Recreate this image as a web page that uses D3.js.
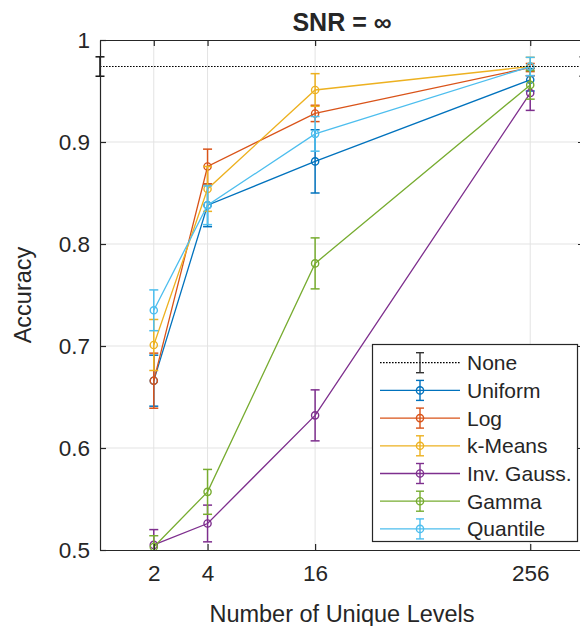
<!DOCTYPE html>
<html>
<head>
<meta charset="utf-8">
<script src="https://cdn.jsdelivr.net/npm/d3@7/dist/d3.min.js"></script>
<style>
  html, body { margin: 0; padding: 0; background: #fff; }
  svg { display: block; }
  text { font-family: "Liberation Sans", Arial, sans-serif; fill: #262626; }
</style>
</head>
<body>
<svg id="chart" width="580" height="626"></svg>
<script>
// ---- data ----
const levels = [2, 4, 16, 256];
const xTicks = [2, 4, 16, 256];
const yTicks = [0.5, 0.6, 0.7, 0.8, 0.9, 1];
const seriesNames = ["Uniform", "Log", "k-Means", "Inv. Gauss.", "Gamma", "Quantile"];
const seriesColors = ["#0072BD", "#D95319", "#EDB120", "#7E2F8E", "#77AC30", "#4DBEEE"];
const uniformAcc  = [0.666, 0.838, 0.881, 0.961];
const uniformErr  = [0.025, 0.021, 0.031, 0.011];
const logAcc      = [0.666, 0.876, 0.928, 0.973];
const logErr      = [0.027, 0.017, 0.008, 0.004];
const kmeansAcc   = [0.701, 0.854, 0.951, 0.974];
const kmeansErr   = [0.025, 0.022, 0.016, 0.009];
const invGaussAcc = [0.505, 0.526, 0.632, 0.948];
const invGaussErr = [0.015, 0.018, 0.025, 0.017];
const gammaAcc    = [0.503, 0.557, 0.781, 0.956];
const gammaErr    = [0.011, 0.022, 0.025, 0.014];
const quantileAcc = [0.735, 0.838, 0.908, 0.974];
const quantileErr = [0.020, 0.019, 0.017, 0.009];
const noneLevels  = [1, 512];
const noneAcc     = [0.974, 0.974];
const noneErr     = [0.0095, 0.0095];

const seriesAcc = [uniformAcc, logAcc, kmeansAcc, invGaussAcc, gammaAcc, quantileAcc];
const seriesErr = [uniformErr, logErr, kmeansErr, invGaussErr, gammaErr, quantileErr];

// ---- layout ----
const svg = d3.select("#chart");
const L = 100, R = 584, T = 40, B = 550;
const x = d3.scaleLog().base(2).domain([1, 512]).range([L, R]);
const y = d3.scaleLinear().domain([0.5, 1]).range([B, T]);
const axisColor = "#262626";
const gridColor = "#e3e3e3";

svg.append("defs").append("clipPath").attr("id", "clip")
  .append("rect").attr("x", 80).attr("y", T).attr("width", 600).attr("height", B - T);

// grid
const grid = svg.append("g");
grid.selectAll(".gx").data(xTicks).join("line")
  .attr("x1", d => x(d)).attr("x2", d => x(d)).attr("y1", T).attr("y2", B)
  .attr("stroke", gridColor).attr("stroke-width", 1);
grid.selectAll(".gy").data(yTicks.filter(d => d > 0.5 && d < 1)).join("line")
  .attr("x1", L).attr("x2", R).attr("y1", d => y(d)).attr("y2", d => y(d))
  .attr("stroke", gridColor).attr("stroke-width", 1);

// axes (MATLAB style, inward ticks, box)
const xAxisB = d3.axisBottom(x).tickValues(xTicks).tickFormat(d3.format("d")).tickSizeInner(-6).tickSizeOuter(0).tickPadding(15);
const xAxisT = d3.axisTop(x).tickValues(xTicks).tickFormat("").tickSizeInner(-6).tickSizeOuter(0);
const yAxisL = d3.axisLeft(y).tickValues(yTicks).tickFormat(d => d === 1 ? "1" : d3.format(".1f")(d)).tickSizeInner(-6).tickSizeOuter(0).tickPadding(10);
const yAxisR = d3.axisRight(y).tickValues(yTicks).tickFormat("").tickSizeInner(-6).tickSizeOuter(0);

function styleAxis(g) {
  g.select(".domain").attr("stroke", axisColor).attr("stroke-width", 1.2);
  g.selectAll(".tick line").attr("stroke", axisColor).attr("stroke-width", 1.2);
  g.selectAll(".tick text").attr("fill", axisColor).style("font-size", "22.5px")
    .style("font-family", "'Liberation Sans', Arial, sans-serif");
}

// plot data
const plot = svg.append("g").attr("clip-path", "url(#clip)");
const line = d3.line().x(d => x(d[0])).y(d => y(d[1]));
const capW = 4.5;

function drawSeries(g, xs, ys, es, color, opts) {
  const pts = xs.map((v, i) => [v, ys[i], es[i]]);
  g.append("path").datum(pts).attr("d", line).attr("fill", "none")
    .attr("stroke", color).attr("stroke-width", opts.lw || 1.3)
    .attr("stroke-dasharray", opts.dash || null);
  const eb = g.append("g");
  pts.forEach(p => {
    const cx = x(p[0]), y1 = y(p[1] + p[2]), y2 = y(p[1] - p[2]);
    eb.append("line").attr("x1", cx).attr("x2", cx).attr("y1", y1).attr("y2", y2)
      .attr("stroke", color).attr("stroke-width", opts.elw || 1.5);
    [y1, y2].forEach(yy => eb.append("line").attr("x1", cx - capW).attr("x2", cx + capW)
      .attr("y1", yy).attr("y2", yy).attr("stroke", color).attr("stroke-width", opts.elw || 1.5));
    if (opts.marker) {
      g.append("circle").attr("cx", cx).attr("cy", y(p[1])).attr("r", 3.6)
        .attr("fill", "none").attr("stroke", color).attr("stroke-width", 1.4);
    }
  });
}

// None baseline (not clipped so its end error bar sits on the left edge)
const noneG = svg.append("g");
drawSeries(noneG, noneLevels, noneAcc, noneErr, "#000", { lw: 1.2, dash: "1.6,1.4", elw: 1.4, marker: false });

seriesNames.forEach((n, i) => {
  drawSeries(plot.append("g"), levels, seriesAcc[i], seriesErr[i], seriesColors[i], { marker: true });
});

svg.append("g").attr("transform", `translate(0,${B})`).call(xAxisB).call(styleAxis);
svg.append("g").attr("transform", `translate(0,${T})`).call(xAxisT).call(styleAxis);
svg.append("g").attr("transform", `translate(${L},0)`).call(yAxisL).call(styleAxis);
svg.append("g").attr("transform", `translate(${R},0)`).call(yAxisR).call(styleAxis);

// title & labels
svg.append("text").attr("x", (L + R) / 2).attr("y", 31).attr("text-anchor", "middle")
  .style("font-size", "25px").style("font-weight", "bold").attr("fill", "#000").text("SNR = ∞");
svg.append("text").attr("x", (L + R) / 2 - 0).attr("y", 622).attr("text-anchor", "middle")
  .style("font-size", "23.5px").text("Number of Unique Levels");
svg.append("text").attr("transform", `translate(31,${(T + B) / 2}) rotate(-90)`).attr("text-anchor", "middle")
  .style("font-size", "23.5px").text("Accuracy");

// legend
const legNames = ["None"].concat(seriesNames);
const legColors = ["#000"].concat(seriesColors);
const lg = svg.append("g");
const lx = 372.5, ly = 344.5, lw = 205, lh = 197;
lg.append("rect").attr("x", lx).attr("y", ly).attr("width", lw).attr("height", lh)
  .attr("fill", "#fff").attr("stroke", axisColor).attr("stroke-width", 1.2);
legNames.forEach((n, i) => {
  const cy = 362.7 + i * 27.7;
  const c = legColors[i];
  lg.append("line").attr("x1", 380).attr("x2", 460).attr("y1", cy).attr("y2", cy)
    .attr("stroke", c).attr("stroke-width", i === 0 ? 1.2 : 1.3)
    .attr("stroke-dasharray", i === 0 ? "1.6,1.4" : null);
  const ec = i === 0 ? "#333" : c;
  lg.append("line").attr("x1", 420).attr("x2", 420).attr("y1", cy - 10).attr("y2", cy + 10)
    .attr("stroke", ec).attr("stroke-width", 1.4);
  [cy - 10, cy + 10].forEach(yy => lg.append("line").attr("x1", 416).attr("x2", 424)
    .attr("y1", yy).attr("y2", yy).attr("stroke", ec).attr("stroke-width", 1.4));
  if (i > 0) lg.append("circle").attr("cx", 420).attr("cy", cy).attr("r", 3.6)
    .attr("fill", "none").attr("stroke", c).attr("stroke-width", 1.4);
  lg.append("text").attr("x", 467).attr("y", cy).attr("dy", "0.36em")
    .style("font-size", "21px").attr("fill", "#000").text(n);
});
</script>
</body>
</html>
